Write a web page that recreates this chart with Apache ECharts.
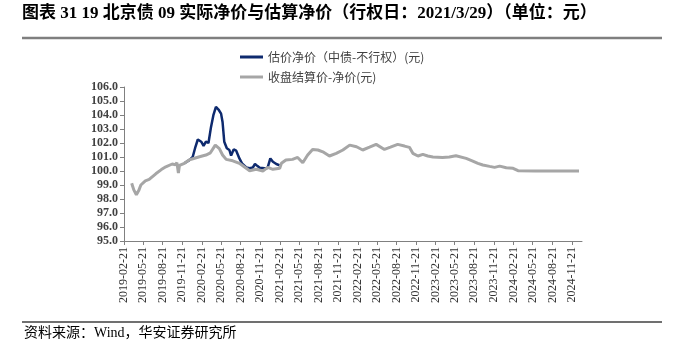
<!DOCTYPE html>
<html><head><meta charset="utf-8">
<script src="https://cdn.jsdelivr.net/npm/echarts@6/dist/echarts.min.js"></script>
<style>html,body{margin:0;padding:0;background:#fff}#c{width:700px;height:348px}</style>
</head><body><div id="c"></div>
<script>
const titleText = '图表 31 19 北京债 09 实际净价与估算净价（行权日：2021/3/29）（单位：元）';
const sourceText = '资料来源：Wind，华安证券研究所';
const seriesNames = ['估价净价（中债-不行权）(元)', '收盘结算价-净价(元)'];

const tickLabels = ['2019-02-21','2019-05-21','2019-08-21','2019-11-21','2020-02-21','2020-05-21','2020-08-21','2020-11-21',
  '2021-02-21','2021-05-21','2021-08-21','2021-11-21','2022-02-21','2022-05-21','2022-08-21','2022-11-21',
  '2023-02-21','2023-05-21','2023-08-21','2023-11-21','2024-02-21','2024-05-21','2024-08-21','2024-11-21'];

const estDates = ['2019-12-01','2019-12-24','2020-01-09','2020-01-22','2020-02-02','2020-02-18','2020-02-29','2020-03-11','2020-03-23',
  '2020-04-04','2020-04-15','2020-04-27','2020-05-09','2020-05-21','2020-05-28','2020-06-05','2020-06-17','2020-06-29','2020-07-07',
  '2020-07-19','2020-07-31','2020-08-15','2020-08-27','2020-09-16','2020-10-02','2020-10-17','2020-10-27','2020-11-08','2020-11-18',
  '2020-12-11','2020-12-25','2021-01-07','2021-01-19','2021-02-04','2021-02-20'];
const estValues = [100.55,100.78,101.0,101.73,102.25,102.09,101.8,102.09,102.0,
  103.15,103.99,104.58,104.39,104.1,103.5,102.09,101.62,101.5,101.1,
  101.54,101.45,100.9,100.55,100.25,100.2,100.25,100.5,100.35,100.23,
  100.2,100.22,100.9,100.66,100.5,100.4];

const closeDates = ['2019-03-29','2019-04-08','2019-04-20','2019-05-01','2019-05-11','2019-06-01','2019-06-19','2019-07-20','2019-08-15',
  '2019-09-05','2019-10-05','2019-10-20','2019-10-27','2019-11-03','2019-11-08','2019-12-01','2019-12-25','2020-02-10','2020-03-11',
  '2020-04-01','2020-04-24','2020-05-13','2020-05-28','2020-06-14','2020-07-15','2020-08-15','2020-09-16','2020-10-02','2020-11-02',
  '2020-12-03','2020-12-26','2021-01-19','2021-02-20','2021-02-28','2021-03-21','2021-04-21','2021-05-15','2021-06-08','2021-07-01',
  '2021-07-24','2021-08-18','2021-09-10','2021-10-11','2021-11-12','2021-12-13','2022-01-14','2022-02-15','2022-03-16','2022-04-17',
  '2022-05-18','2022-06-26','2022-07-24','2022-08-27','2022-09-28','2022-10-21','2022-11-06','2022-11-30','2022-12-23','2023-01-15',
  '2023-02-08','2023-03-25','2023-04-26','2023-05-27','2023-07-14','2023-08-14','2023-09-07','2023-09-30','2023-11-01','2023-11-24',
  '2023-12-18','2024-01-18','2024-02-19','2024-03-13','2024-06-01','2024-09-01','2024-12-24'];
const closeValues = [99.12,98.65,98.3,98.6,99.0,99.3,99.4,99.8,100.1,
  100.3,100.5,100.45,100.6,99.85,100.4,100.55,100.8,101.02,101.14,
  101.3,101.85,101.6,101.14,100.83,100.73,100.55,100.2,100.02,100.12,
  100.0,100.26,100.12,100.2,100.55,100.78,100.83,100.97,100.59,101.14,
  101.54,101.5,101.37,101.07,101.26,101.5,101.85,101.73,101.5,101.7,
  101.9,101.54,101.7,101.9,101.78,101.69,101.26,101.07,101.19,101.07,
  101.0,100.97,101.0,101.09,100.9,100.71,100.55,100.43,100.33,100.26,
  100.35,100.23,100.19,100.02,100.0,100.0,100.0];

function toTs(s){const p=s.split('-').map(Number);return Date.UTC(p[0],p[1]-1,p[2]);}
function pad(n){return (n<10?'0':'')+n;}
function fmt(v){const d=new Date(v);return d.getUTCFullYear()+'-'+pad(d.getUTCMonth()+1)+'-'+pad(d.getUTCDate());}

const tickTs = tickLabels.map(toTs);
const estData = estDates.map((d,i)=>[toTs(d), estValues[i]]);
const closeData = closeDates.map((d,i)=>[toTs(d), closeValues[i]]);

const chart = echarts.init(document.getElementById('c'), null, {renderer:'canvas'});
const serif = '"Liberation Serif","Noto Sans CJK SC",serif';
chart.setOption({
  animation:false,
  backgroundColor:'#fff',
  grid:{left:124, right:118, top:87, bottom:107, containLabel:false},
  legend:{
    orient:'vertical', left:235, top:46, itemGap:8, itemWidth:23, itemHeight:3,
    textStyle:{fontFamily:'"Noto Sans CJK SC",sans-serif', fontSize:12, color:'#404040'},
    data:[{name:seriesNames[0], icon:'rect'},{name:seriesNames[1], icon:'rect'}]
  },
  xAxis:{
    type:'value', min:toTs('2019-02-21'), max:toTs('2025-01-07'),
    axisLine:{show:true, onZero:false, lineStyle:{color:'#808080', width:1}},
    axisTick:{show:true, customValues:tickTs, length:4, lineStyle:{color:'#808080'}},
    axisLabel:{customValues:tickTs, rotate:90, margin:6, formatter:(v)=>fmt(v), fontFamily:serif, fontSize:12, color:'#333'},
    splitLine:{show:false}
  },
  yAxis:{
    type:'value', min:95, max:106, interval:1,
    axisLine:{show:true, lineStyle:{color:'#808080', width:1}},
    axisTick:{show:true, length:4, lineStyle:{color:'#808080'}},
    axisLabel:{formatter:(v)=>v.toFixed(1), fontFamily:serif, fontWeight:'bold', fontSize:12, color:'#404040', margin:6},
    splitLine:{show:false}
  },
  series:[
    {name:seriesNames[0], type:'line', data:estData, showSymbol:false, symbol:'none',
     lineStyle:{color:'#0E2A6E', width:2.5}, itemStyle:{color:'#0E2A6E'}, z:2},
    {name:seriesNames[1], type:'line', data:closeData, showSymbol:false, symbol:'none',
     lineStyle:{color:'#A6A6A6', width:3}, itemStyle:{color:'#A6A6A6'}, z:3}
  ],
  graphic:[
    {type:'text', left:22, top:5, style:{text:titleText, font:'bold 17px "Liberation Serif","Noto Sans CJK SC",serif', fill:'#000'}},
    {type:'line', shape:{x1:22, y1:38, x2:662, y2:38}, style:{stroke:'#7f7f7f', lineWidth:2.5}},
    {type:'line', shape:{x1:22, y1:322, x2:662, y2:322}, style:{stroke:'#404040', lineWidth:1.5}},
    {type:'text', left:24, top:326, style:{text:sourceText, font:'14px "Liberation Serif","Noto Sans CJK SC",serif', fill:'#000'}}
  ]
});
</script></body></html>
